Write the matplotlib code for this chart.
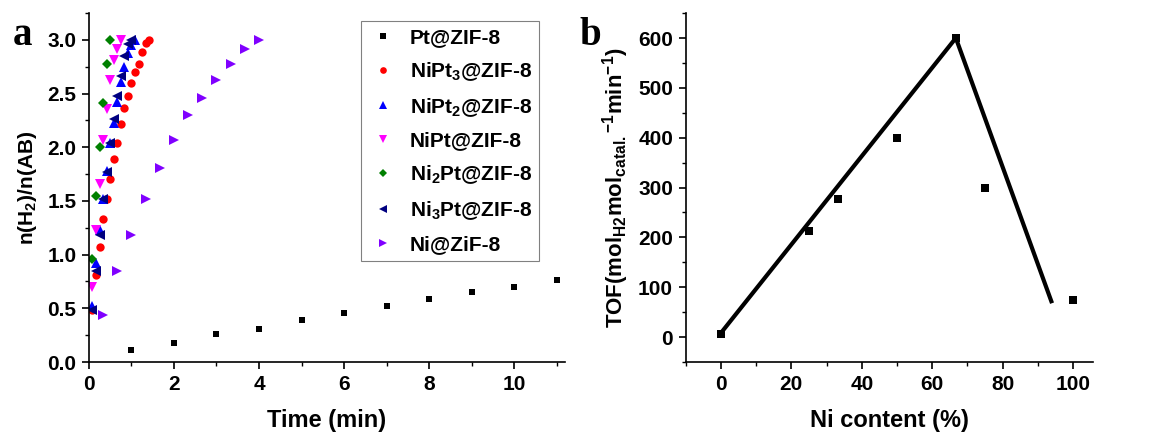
import numpy as np
import matplotlib
matplotlib.use('Agg')
import matplotlib.pyplot as plt
from matplotlib.ticker import MultipleLocator

plt.rcParams['font.family'] = ['Liberation Sans', 'DejaVu Sans']
plt.rcParams['font.weight'] = 'bold'
plt.rcParams['mathtext.fontset'] = 'custom'
plt.rcParams['mathtext.rm'] = 'Liberation Sans:bold'
plt.rcParams['mathtext.default'] = 'rm'

# panel a: n(H2)/n(AB) vs time
t_pt = [1, 2, 3, 4, 5, 6, 7, 8, 9, 10, 11]
y_pt = [0.11, 0.18, 0.26, 0.31, 0.39, 0.46, 0.52, 0.59, 0.65, 0.70, 0.76]

t_nipt3 = [0.08, 0.17, 0.25, 0.33, 0.42, 0.50, 0.58, 0.67, 0.75, 0.83, 0.92, 1.00, 1.08, 1.17, 1.25, 1.33, 1.42]
y_nipt3 = [0.48, 0.81, 1.07, 1.33, 1.52, 1.70, 1.89, 2.04, 2.22, 2.37, 2.48, 2.60, 2.70, 2.78, 2.89, 2.97, 3.00]

t_nipt2 = [0.08, 0.17, 0.25, 0.33, 0.42, 0.50, 0.58, 0.67, 0.75, 0.83, 0.92, 1.00, 1.08]
y_nipt2 = [0.52, 0.92, 1.23, 1.52, 1.78, 2.04, 2.23, 2.42, 2.61, 2.75, 2.88, 2.95, 3.00]

t_nipt = [0.08, 0.17, 0.25, 0.33, 0.42, 0.50, 0.58, 0.67, 0.75]
y_nipt = [0.70, 1.23, 1.66, 2.07, 2.36, 2.63, 2.81, 2.92, 3.00]

t_ni2pt = [0.08, 0.17, 0.25, 0.33, 0.42, 0.50]
y_ni2pt = [0.96, 1.55, 2.00, 2.41, 2.78, 3.00]

t_ni3pt = [0.08, 0.17, 0.25, 0.33, 0.42, 0.50, 0.58, 0.67, 0.75, 0.83, 0.92, 1.00]
y_ni3pt = [0.48, 0.85, 1.18, 1.52, 1.77, 2.04, 2.26, 2.48, 2.66, 2.85, 2.96, 3.00]

t_ni = [0.33, 0.67, 1.00, 1.33, 1.67, 2.00, 2.33, 2.67, 3.00, 3.33, 3.67, 4.00]
y_ni = [0.44, 0.85, 1.18, 1.52, 1.81, 2.07, 2.30, 2.46, 2.63, 2.78, 2.92, 3.00]

# panel b: TOF vs Ni content
ni_content = [0, 25, 33.3, 50, 66.7, 75, 100]
tof = [7, 213, 277, 400, 600, 300, 75]
fit_x = [0, 66.7, 94]
fit_y = [8, 600, 68]

fig = plt.figure(figsize=(11.66, 4.36), dpi=100)
ax1 = fig.add_axes([0.0763, 0.1697, 0.4083, 0.8003])
ax2 = fig.add_axes([0.588, 0.1697, 0.349, 0.8003])

series = [
    (t_pt, y_pt, 's', '#000000', 5, 'Pt@ZIF-8'),
    (t_nipt3, y_nipt3, 'o', '#ff0000', 6, 'NiPt$_3$@ZIF-8'),
    (t_nipt2, y_nipt2, '^', '#0000ff', 7, 'NiPt$_2$@ZIF-8'),
    (t_nipt, y_nipt, 'v', '#ff00ff', 7, 'NiPt@ZIF-8'),
    (t_ni2pt, y_ni2pt, 'D', '#008000', 5.5, 'Ni$_2$Pt@ZIF-8'),
    (t_ni3pt, y_ni3pt, '<', '#000080', 7, 'Ni$_3$Pt@ZIF-8'),
    (t_ni, y_ni, '>', '#8000ff', 7, 'Ni@ZiF-8'),
]
for x, y, m, c, ms, lab in series:
    ax1.plot(x, y, linestyle='none', marker=m, color=c, markersize=ms,
             markeredgewidth=0, label=lab)

ax1.set_xlim(0, 11.2)
ax1.set_ylim(0, 3.25)
ax1.xaxis.set_major_locator(MultipleLocator(2))
ax1.xaxis.set_minor_locator(MultipleLocator(1))
ax1.yaxis.set_major_locator(MultipleLocator(0.5))
ax1.yaxis.set_minor_locator(MultipleLocator(0.25))
ax1.set_xlabel('Time (min)', fontsize=17, fontweight='bold', labelpad=11)
ax1.set_ylabel('n(H$_2$)/n(AB)', fontsize=15, fontweight='bold', labelpad=6)
leg = ax1.legend(loc='upper left', bbox_to_anchor=(0.571, 0.978), borderaxespad=0,
                 fontsize=15, markerscale=0.8, handletextpad=0.6, labelspacing=0.62,
                 fancybox=False, framealpha=1, edgecolor='#808080', handlelength=1.4,
                 borderpad=0.35)
leg.get_frame().set_linewidth(0.8)

ax2.plot(fit_x, fit_y, color='black', linewidth=3, solid_capstyle='butt')
ax2.plot(ni_content, tof, linestyle='none', marker='s', color='black',
         markersize=5.5, markeredgewidth=0)
ax2.set_xlim(-10, 105.5)
ax2.set_ylim(-50, 650)
ax2.xaxis.set_major_locator(MultipleLocator(20))
ax2.xaxis.set_minor_locator(MultipleLocator(10))
ax2.yaxis.set_major_locator(MultipleLocator(100))
ax2.yaxis.set_minor_locator(MultipleLocator(50))
ax2.set_xlabel('Ni content (%)', fontsize=17, fontweight='bold', labelpad=11)
ax2.set_ylabel('TOF(mol$_{H2}$mol$_{catal.}$$^{-1}$min$^{-1}$)', fontsize=16,
               fontweight='bold', labelpad=5)

for ax in (ax1, ax2):
    for s in ('top', 'right'):
        ax.spines[s].set_visible(False)
    for s in ('left', 'bottom'):
        ax.spines[s].set_linewidth(1.2)
    ax.tick_params(which='major', direction='out', length=5, width=1.2,
                   labelsize=15, pad=4)
    ax.tick_params(which='minor', direction='out', length=3, width=1.0)
    for lbl in ax.get_xticklabels() + ax.get_yticklabels():
        lbl.set_fontweight('bold')

fig.text(0.011, 0.897, 'a', fontsize=28, fontweight='bold', family='Liberation Serif',
         va='baseline', ha='left')
fig.text(0.497, 0.897, 'b', fontsize=28, fontweight='bold', family='Liberation Serif',
         va='baseline', ha='left')

fig.savefig('out.png', dpi=100)
